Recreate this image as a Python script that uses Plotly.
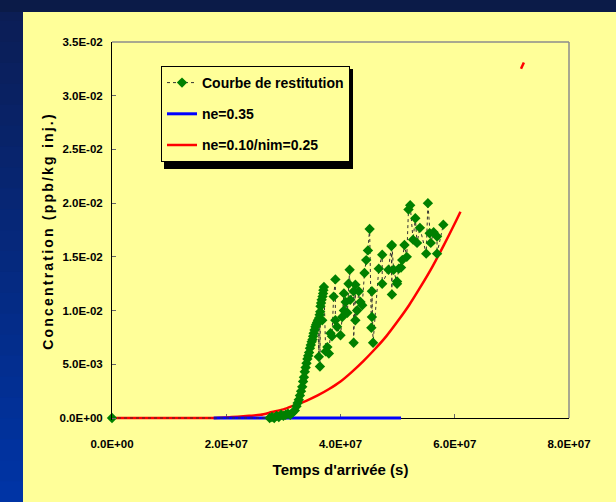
import plotly.graph_objects as go

# ---------------- data ----------------
obs_t = [0.0, 27.6, 28.0, 28.4, 28.8, 29.2, 29.6, 30.0, 30.4, 30.8, 31.2, 31.6, 32.0,
         32.3, 32.5, 32.7, 32.9, 33.1, 33.3, 33.45, 33.6, 33.75, 33.9, 34.05, 34.2,
         34.35, 34.5, 34.65, 34.8, 34.95, 35.1, 35.2, 35.3, 35.45, 35.6, 35.75, 35.9,
         36.05, 36.2, 36.25, 36.35, 36.4, 36.45, 36.5, 36.6, 36.7, 36.8, 36.85, 36.95,
         37.0, 37.1, 37.4, 37.7,
         37.96, 38.25, 38.5, 38.8, 39.1, 39.1, 39.4, 40.0, 40.3, 40.6, 40.6, 40.9,
         41.2, 41.4, 41.6, 41.7, 42.3, 42.3, 42.6, 42.6, 42.9, 43.2, 43.5, 43.8,
         44.2, 44.5, 44.8, 45.1, 45.4, 45.5, 45.5, 45.7, 46.7, 47.3, 47.3, 48.4,
         48.9, 49.0, 49.0, 49.3, 49.9, 49.9, 50.2, 50.6, 50.8, 51.2, 51.6, 51.9,
         52.2, 52.7, 53.1, 53.4, 53.9, 55.0, 55.3, 55.6, 55.8, 56.3, 56.9, 56.9, 58.0]
obs_c = [0.0, 0.0000, 0.0001, 0.0000, 0.0002, 0.0001, 0.0003, 0.0002, 0.0003, 0.0004,
         0.0003, 0.0005, 0.0007, 0.0011, 0.0014, 0.0017, 0.0021, 0.0025, 0.0029, 0.0034,
         0.0038, 0.0043, 0.0047, 0.0051, 0.0055, 0.0058, 0.0061, 0.0065, 0.0068, 0.0071,
         0.0073, 0.0076, 0.0079, 0.0082, 0.0085, 0.0087, 0.0089, 0.0091, 0.0057, 0.0093,
         0.0096, 0.0048, 0.0099, 0.0104, 0.0107, 0.0110, 0.0091, 0.0113, 0.0116,
         0.0119, 0.0122, 0.0062, 0.0066,
         0.0060, 0.0079, 0.0076, 0.0113, 0.0129, 0.0091, 0.0085, 0.0077, 0.0094, 0.0116,
         0.0100, 0.0108, 0.0098, 0.0125, 0.0138, 0.0110, 0.0118, 0.0070, 0.0124, 0.0091,
         0.0100, 0.0118, 0.0108, 0.0105, 0.0135, 0.0147, 0.0156, 0.0176, 0.0084, 0.0094,
         0.0118, 0.0070, 0.0139, 0.0152, 0.0125, 0.0138, 0.0160, 0.0115, 0.0161, 0.0138,
         0.0125, 0.0127, 0.0139, 0.0140, 0.0147, 0.0161, 0.0150, 0.0194, 0.0198, 0.0166,
         0.0186, 0.0163, 0.0177, 0.0153, 0.0200, 0.0172, 0.0163, 0.0173, 0.0169, 0.0153,
         0.0180]

ne035_t = [17.8, 25.0, 35.0, 45.0, 50.6]
ne035_c = [0.0, 0.0, 0.0, 0.0, 0.0]

dual_t = [0.0, 10.0, 18.0, 20.0, 22.0, 24.0, 26.0, 28.0, 30.0, 32.0, 34.0, 36.0, 38.0,
          40.0, 42.0, 44.0, 46.0, 48.0, 50.0, 52.0, 54.0, 56.0, 58.0, 60.0, 61.0,
          None, 71.6, 72.1]
dual_c = [0.0, 0.0, 0.0, 0.00005, 0.00012, 0.0002, 0.0003, 0.00055, 0.0008, 0.0012,
          0.0016, 0.0021, 0.0027, 0.0034, 0.0043, 0.0053, 0.0064, 0.0076, 0.0090,
          0.0105, 0.0122, 0.0140, 0.0160, 0.0181, 0.0192, None, 0.0325, 0.0331]

x_ticks = [0, 2e7, 4e7, 6e7, 8e7]
x_tick_text = ["0.0E+00", "2.0E+07", "4.0E+07", "6.0E+07", "8.0E+07"]
y_ticks = [0, 0.005, 0.010, 0.015, 0.020, 0.025, 0.030, 0.035]
y_tick_text = ["0.0E+00", "5.0E-03", "1.0E-02", "1.5E-02", "2.0E-02", "2.5E-02",
               "3.0E-02", "3.5E-02"]

series_names = ["Courbe de restitution", "ne=0.35", "ne=0.10/nim=0.25"]

# ---------------- styling ----------------
W, H = 616, 502
L, R, T, B = 112, 569, 42, 420      # plot area extends 2px below the x axis line
PW, PH = R - L, B - T
Y_MAX = 0.035
Y_PAD = 2 * Y_MAX / (PH - 2)         # 2px of headroom below y=0 so lines at 0 are not clipped
FONT = "Liberation Sans, Arial, sans-serif"
YELLOW = "#FFFF99"


def px(x):
    return (x - L) / PW


def py(y):
    return (B - y) / PH


def scale_t(vals):
    return [None if v is None else v * 1e6 for v in vals]


fig = go.Figure()
fig.add_trace(go.Scatter(
    x=scale_t(dual_t), y=dual_c, mode="lines", name=series_names[2],
    line=dict(color="#FF0000", width=2.5, shape="spline", smoothing=0.8),
    connectgaps=False, legendgroup="c", legendrank=3))
fig.add_trace(go.Scatter(
    x=scale_t(ne035_t), y=ne035_c, mode="lines", name=series_names[1],
    line=dict(color="#0000FF", width=3), legendgroup="b", legendrank=2))
fig.add_trace(go.Scatter(
    x=scale_t(obs_t), y=obs_c, mode="lines+markers", name=series_names[0],
    line=dict(color="#333333", width=1, dash="dot"),
    marker=dict(symbol="diamond", size=8, color="#008000", line=dict(width=0)),
    cliponaxis=False, legendgroup="a", legendrank=1))

shapes = []
# left blue gradient strip
n = 24
top_rgb = (12, 30, 85)
bot_rgb = (0, 52, 165)
for i in range(n):
    f = i / (n - 1)
    col = "rgb(%d,%d,%d)" % tuple(int(a + (b - a) * f) for a, b in zip(top_rgb, bot_rgb))
    y0 = i * H / n
    y1 = (i + 1) * H / n + 1
    shapes.append(dict(type="rect", xref="paper", yref="paper",
                       x0=px(0), x1=px(23), y0=py(y1), y1=py(y0),
                       fillcolor=col, line=dict(width=0), layer="below"))
# top dark band
shapes.append(dict(type="rect", xref="paper", yref="paper",
                   x0=px(0), x1=px(W), y0=py(12), y1=py(0),
                   fillcolor="#0B1B48", line=dict(width=0), layer="below"))
# grey plot frame (top/right)
shapes.append(dict(type="line", xref="paper", yref="paper", x0=0, x1=1, y0=1, y1=1,
                   line=dict(color="#8C8C8C", width=1.5)))
shapes.append(dict(type="line", xref="paper", yref="paper", x0=1, x1=1,
                   y0=py(418), y1=1, line=dict(color="#8C8C8C", width=1.5)))
# legend shadow
shapes.append(dict(type="rect", xref="paper", yref="paper",
                   x0=px(164), x1=px(353), y0=py(169), y1=py(69),
                   fillcolor="#000000", line=dict(width=0), layer="above"))

fig.update_layout(
    width=W, height=H,
    margin=dict(l=L, r=W - R, t=T, b=H - B, pad=0),
    paper_bgcolor=YELLOW, plot_bgcolor=YELLOW,
    font=dict(family=FONT, size=12, color="#000000", weight="bold"),
    showlegend=True,
    legend=dict(x=px(161), y=py(66), xanchor="left", yanchor="top",
                bgcolor=YELLOW, bordercolor="#000000", borderwidth=1,
                font=dict(family=FONT, size=14, color="#000000", weight="bold"),
                traceorder="grouped", tracegroupgap=10),
    shapes=shapes,
    xaxis=dict(range=[0, 8e7], tickvals=x_ticks, ticktext=x_tick_text,
               anchor="free", position=py(418), layer="below traces",
               showgrid=False, zeroline=False, showline=True, linecolor="#000000",
               linewidth=1, ticks="inside", ticklen=4, tickcolor="#666666",
               tickfont=dict(family=FONT, size=11.5, color="#000000", weight="bold"),
               ticklabelstandoff=15,
               title=dict(text="Temps d'arrivée (s)", standoff=15,
                          font=dict(family=FONT, size=15, color="#000000", weight="bold"))),
    yaxis=dict(range=[-Y_PAD, Y_MAX], tickvals=y_ticks, ticktext=y_tick_text,
               showgrid=False, zeroline=False, showline=True, linecolor="#000000",
               linewidth=1, ticks="inside", ticklen=4, tickcolor="#666666",
               tickfont=dict(family=FONT, size=11.5, color="#000000", weight="bold"),
               ticklabelstandoff=6,
               title=dict(text='<span style="letter-spacing:2.2px">Concentration (ppb/kg inj.)</span>',
                          standoff=2,
                          font=dict(family=FONT, size=14, color="#000000", weight="bold"))),
)

fig.write_html("out.html")
